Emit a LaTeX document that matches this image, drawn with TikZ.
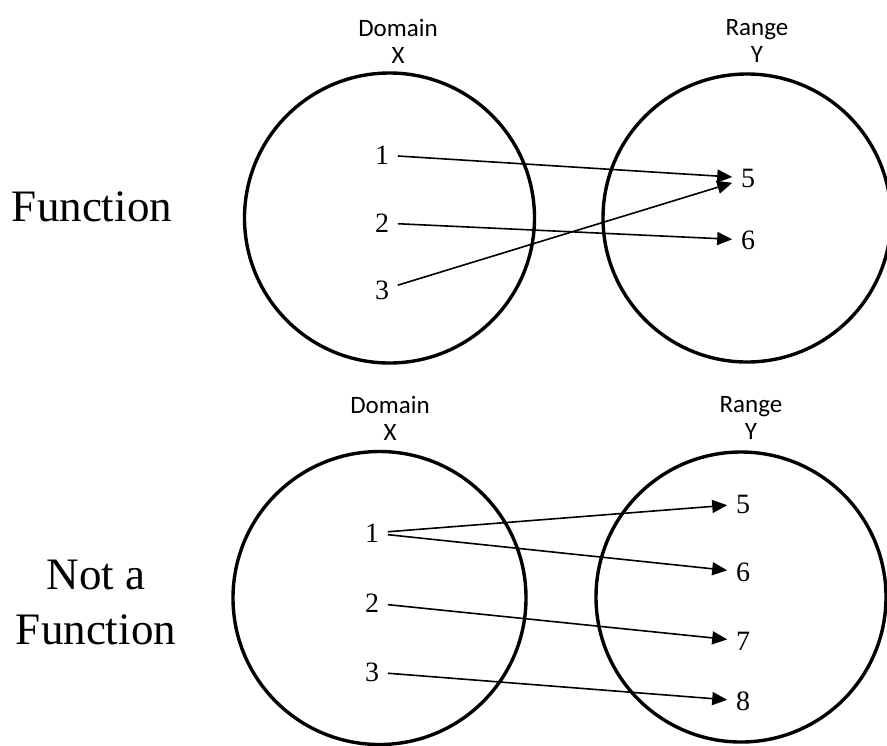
\documentclass[tikz,border=0pt]{standalone}
\usepackage{fontspec}
\setmainfont{Liberation Serif}
\newfontfamily\calfont{Carlito}
\usepackage{tikz}
\usetikzlibrary{arrows.meta}

\begin{document}
\begin{tikzpicture}[x=0.5pt,y=-0.5pt,
		setline/.style={line width=1.7pt},
		elem/.style={font=\fontsize{14}{16}\selectfont, inner xsep=4.2pt, inner ysep=1pt},
		head/.style={font=\calfont\fontsize{12.5}{13.5}\selectfont, align=center, inner sep=0pt},
		kind/.style={font=\fontsize{22.5}{27.5}\selectfont, align=center, inner sep=0pt},
		mapsto/.style={line width=0.8pt, -{Triangle[length=7.5pt,width=6.5pt]}}]
		\useasboundingbox (0,0) rectangle (887,745);
		% top: a function
		\node[kind] (fun) at (92,207) {Function};
		\node[head] (dom1) at (398,41) {Domain\\X};
		\node[head] (ran1) at (757,41) {Range\\Y};
		\draw[setline] (389.5,218) circle (145);
		\draw[setline] (747,218) circle (144);
		\node[elem] (a1) at (382,155) {1};
		\node[elem] (a2) at (382,223) {2};
		\node[elem] (a3) at (382,290) {3};
		\node[elem] (b5) at (748,178) {5};
		\node[elem] (b6) at (748,240) {6};
		\draw[mapsto] (a1) -- (b5);
		\draw[mapsto] (a2) -- (b6);
		\draw[mapsto] (a3) -- (b5);
		% bottom: not a function
		\node[kind] (notfun) at (96,602) {Not a\\Function};
		\node[head] (dom2) at (390,418) {Domain\\X};
		\node[head] (ran2) at (751,418) {Range\\Y};
		\draw[setline] (379.5,598) circle (146.5);
		\draw[setline] (741,597) circle (145);
		\node[elem] (c1) at (372,533) {1};
		\node[elem] (c2) at (372,603) {2};
		\node[elem] (c3) at (372,672) {3};
		\node[elem] (d5) at (743,504) {5};
		\node[elem] (d6) at (743,572) {6};
		\node[elem] (d7) at (743,641) {7};
		\node[elem] (d8) at (743,701) {8};
		\draw[mapsto] (c1) -- (d5);
		\draw[mapsto] (c1) -- (d6);
		\draw[mapsto] (c2) -- (d7);
		\draw[mapsto] (c3) -- (d8);
	\end{tikzpicture}
\end{document}
